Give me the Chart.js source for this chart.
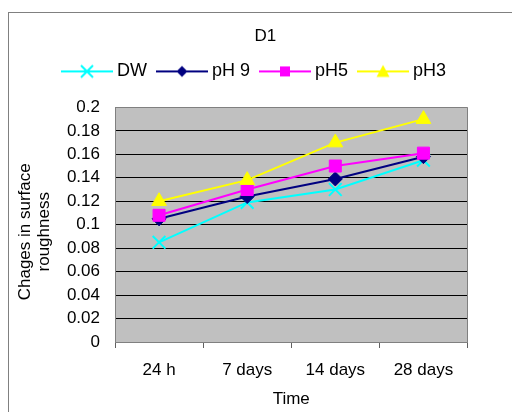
<!DOCTYPE html>
<html><head><meta charset="utf-8">
<script src="https://cdn.jsdelivr.net/npm/chart.js@4/dist/chart.umd.min.js"></script>
<style>html,body{margin:0;padding:0;background:#fff;overflow:hidden}</style>
</head><body>
<canvas id="c" width="512" height="412" style="width:512px;height:412px;display:block"></canvas>
<script>
const chartTitle = 'D1';
const categories = ['24 h', '7 days', '14 days', '28 days'];
const seriesNames = ['DW', 'pH 9', 'pH5', 'pH3'];
const dwValues  = [0.085, 0.119, 0.130, 0.155];
const ph9Values = [0.105, 0.124, 0.139, 0.158];
const ph5Values = [0.108, 0.130, 0.150, 0.161];
const ph3Values = [0.120, 0.138, 0.170, 0.190];
const yTickLabels = ['0', '0.02', '0.04', '0.06', '0.08', '0.1', '0.12', '0.14', '0.16', '0.18', '0.2'];
const xAxisTitle = 'Time';
const yAxisTitle = ['Chages in surface   ', 'roughness   '];

Chart.defaults.font.family = '"Liberation Sans", Arial, sans-serif';
Chart.defaults.font.size = 17;
Chart.defaults.color = '#000';

function makeIcon(kind, color) {
  const c = document.createElement('canvas');
  c.width = 52; c.height = 18;
  const g = c.getContext('2d');
  g.strokeStyle = color; g.fillStyle = color; g.lineWidth = 2;
  g.beginPath(); g.moveTo(0, 9); g.lineTo(52, 9); g.stroke();
  g.beginPath();
  if (kind === 'cross') {
    g.moveTo(20, 3); g.lineTo(32, 15); g.moveTo(32, 3); g.lineTo(20, 15); g.stroke();
  } else if (kind === 'diamond') {
    g.moveTo(26, 3.5); g.lineTo(31.5, 9); g.lineTo(26, 14.5); g.lineTo(20.5, 9); g.closePath(); g.fill();
  } else if (kind === 'square') {
    g.fillRect(21, 4, 10, 10);
  } else {
    g.moveTo(26, 2.5); g.lineTo(32.5, 14.5); g.lineTo(19.5, 14.5); g.closePath(); g.fill();
  }
  return c;
}
const icons = [
  makeIcon('cross', '#00FFFF'),
  makeIcon('diamond', '#000080'),
  makeIcon('square', '#FF00FF'),
  makeIcon('triangle', '#FFFF00')
];

const framePlugin = {
  id: 'frame',
  beforeDraw(chart) {
    const {ctx, chartArea: a} = chart;
    ctx.save();
    ctx.fillStyle = '#fff';
    ctx.fillRect(0, 0, chart.width, chart.height);
    ctx.strokeStyle = '#808080';
    ctx.lineWidth = 1;
    ctx.strokeRect(8.5, 12.5, chart.width + 20, chart.height + 20);
    ctx.fillStyle = '#c0c0c0';
    ctx.fillRect(a.left, a.top, a.right - a.left, a.bottom - a.top);
    ctx.restore();
  },
  beforeDatasetsDraw(chart) {
    const {ctx, chartArea: a} = chart;
    ctx.save();
    ctx.strokeStyle = '#808080';
    ctx.lineWidth = 1;
    const x = Math.round(a.right - 0.5) + 0.5;
    ctx.beginPath(); ctx.moveTo(x, a.top); ctx.lineTo(x, a.bottom); ctx.stroke();
    ctx.restore();
  }
};

const lineBase = {borderWidth: 2, tension: 0, fill: false, pointBorderWidth: 1};

new Chart(document.getElementById('c'), {
  type: 'line',
  data: {
    labels: categories,
    datasets: [
      Object.assign({}, lineBase, {label: seriesNames[0], data: dwValues, borderColor: '#00FFFF', backgroundColor: '#00FFFF',
        pointStyle: 'crossRot', pointRadius: 9, pointBorderWidth: 2, order: 4}),
      Object.assign({}, lineBase, {label: seriesNames[1], data: ph9Values, borderColor: '#000080', backgroundColor: '#000080',
        pointStyle: 'rectRot', pointRadius: 7, order: 3}),
      Object.assign({}, lineBase, {label: seriesNames[2], data: ph5Values, borderColor: '#FF00FF', backgroundColor: '#FF00FF',
        pointStyle: 'rect', pointRadius: 8.5, order: 2}),
      Object.assign({}, lineBase, {label: seriesNames[3], data: ph3Values, borderColor: '#FFFF00', backgroundColor: '#FFFF00',
        pointStyle: 'triangle', pointRadius: 8.5, order: 1})
    ]
  },
  options: {
    responsive: false,
    animation: false,
    layout: {padding: {top: 0, left: 0, right: 0, bottom: 0}},
    plugins: {
      tooltip: {enabled: false},
      title: {
        display: true, text: '    ' + chartTitle, color: '#000',
        font: {size: 17, weight: 'normal'}, padding: {top: 26, bottom: 2}
      },
      legend: {
        display: true, position: 'top',
        labels: {
          usePointStyle: true, pointStyleWidth: 42, padding: 14, color: '#000',
          font: {size: 18},
          generateLabels: chart => chart.data.datasets.map((d, i) => ({
            text: d.label, pointStyle: icons[i], fillStyle: d.backgroundColor,
            strokeStyle: d.borderColor, lineWidth: 0, hidden: false, datasetIndex: i, fontColor: '#000'
          }))
        }
      }
    },
    scales: {
      x: {
        offset: true,
        grid: {offset: true, drawOnChartArea: false, drawTicks: true, tickLength: 6, color: '#606060'},
        border: {color: '#808080'},
        ticks: {padding: 12, color: '#000', font: {size: 17}, maxRotation: 0, autoSkip: false},
        title: {display: true, text: xAxisTitle, color: '#000', font: {size: 17}, padding: {top: 11, bottom: 2}},
        afterFit: s => { s.height = 70; }
      },
      xTop: {
        type: 'category', labels: categories, position: 'top', display: true,
        grid: {display: false}, ticks: {display: false}, border: {display: false},
        afterFit: s => { s.height = 17; }
      },
      y: {
        min: 0, max: 0.2,
        ticks: {stepSize: 0.02, padding: 15, color: '#000', font: {size: 17}, autoSkip: false,
          callback: (v, i) => yTickLabels[i]},
        grid: {
          color: c => (c.index === 0 || c.index === yTickLabels.length - 1) ? '#808080' : '#000000',
          drawTicks: false, lineWidth: 1
        },
        border: {color: '#808080'},
        title: {display: true, text: yAxisTitle, color: '#000', font: {size: 17, lineHeight: 1.1}, padding: {top: 16, bottom: 0}},
        afterFit: s => { s.width = 115; }
      },
      yRight: {
        type: 'linear', position: 'right', display: true,
        grid: {display: false}, ticks: {display: false}, border: {display: false},
        afterFit: s => { s.width = 44.5; }
      }
    }
  },
  plugins: [framePlugin]
});
</script>
</body></html>
